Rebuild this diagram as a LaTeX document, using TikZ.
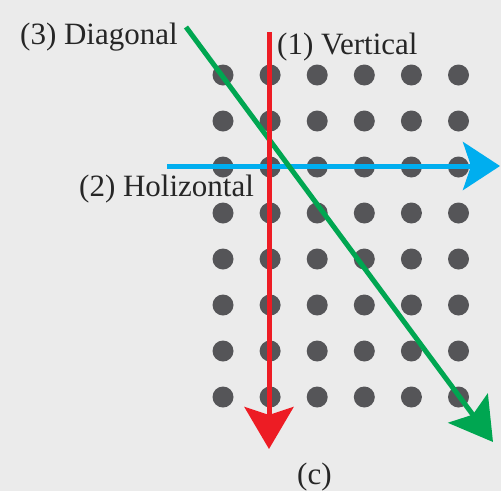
\documentclass[tikz,border=0pt]{standalone}
\usepackage{fontspec}
\setmainfont{Liberation Serif}
\usetikzlibrary{arrows.meta}
\definecolor{bgGray}{HTML}{EBEBEB}
\definecolor{dotGray}{HTML}{555558}
\definecolor{scanRed}{HTML}{ED1C24}
\definecolor{scanBlue}{HTML}{00AEEF}
\definecolor{scanGreen}{HTML}{00A651}

\begin{document}
\begin{tikzpicture}[
x=1pt, y=-1pt,
lbl/.style={anchor=base west, inner sep=0pt, font=\fontsize{31}{31}\selectfont, text=black!85},
scan/.style={line width=5pt, -{Stealth[length=42pt, width=49pt, inset=8pt]}},
dot/.style={fill=dotGray}
]
\fill[bgGray] (0,0) rectangle (501,491);
\useasboundingbox (0,0) rectangle (501,491);
% dot grid
\foreach \c in {0,...,5}
  \foreach \r in {0,...,7}
    \fill[dot] (223+47.1*\c, 75+46*\r) circle (10.5);
% scan directions
\coordinate (hStart) at (167,166);
\coordinate (hEnd) at (500,166);
\coordinate (dStart) at (186,27);
\coordinate (dEnd) at (493,442);
\coordinate (vStart) at (269,32);
\coordinate (vEnd) at (269,449);
\draw[scan, scanBlue, -{Stealth[length=37pt, width=48pt, inset=8pt]}] (hStart) -- (hEnd);
\draw[scan, scanGreen] (dStart) -- (dEnd);
\draw[scan, scanRed] (vStart) -- (vEnd);
% labels
\node[lbl] (vert) at (277,54) {(1) Vertical};
\node[lbl] (holi) at (79,196) {(2) Holizontal};
\node[lbl] (diag) at (20,44) {(3) Diagonal};
\node[lbl] (cap) at (297,484) {(c)};
\end{tikzpicture}
\end{document}
